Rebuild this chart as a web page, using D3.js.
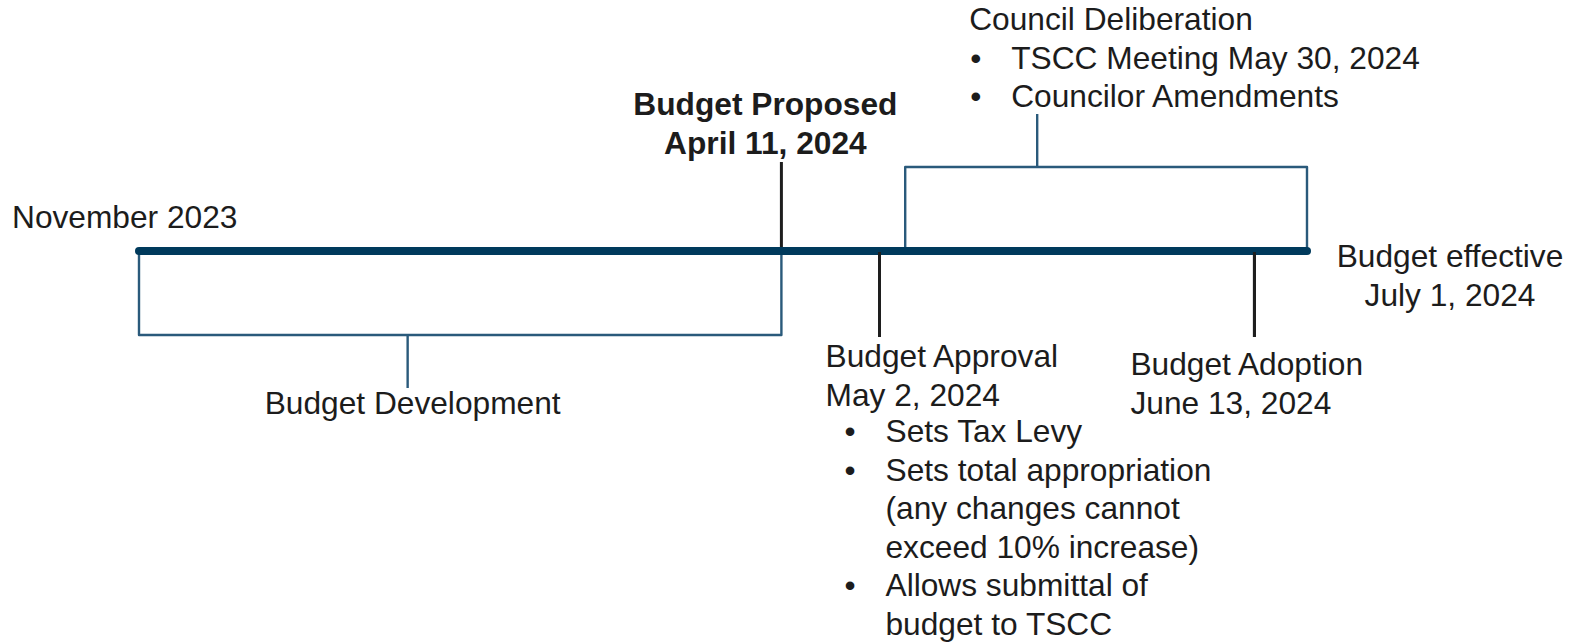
<!DOCTYPE html>
<html>
<head>
<meta charset="utf-8">
<script src="https://cdn.jsdelivr.net/npm/d3@7/dist/d3.min.js"></script>
<style>
  html, body { margin: 0; padding: 0; background: #ffffff; }
  svg { display: block; }
  text { font-family: Arial, "Liberation Sans", Helvetica, sans-serif; fill: #1c1c1c; }
</style>
</head>
<body>
<svg id="chart" width="1580" height="644"></svg>
<script>
// ---------- data ----------
// schematic timeline: 0 = November 2023, 100 = July 1, 2024
const timelineSpan = [0, 100];
const startLabel = "November 2023";
const endLabel = ["Budget effective", "July 1, 2024"];

const eventNames = ["Budget Proposed", "Budget Approval", "Budget Adoption"];
const eventDates = ["April 11, 2024", "May 2, 2024", "June 13, 2024"];
const eventPos   = [55.0, 63.4, 95.5];
const eventSide  = ["above", "below", "below"];

const phaseNames = ["Budget Development", "Council Deliberation"];
const phaseStart = [0, 65.6];
const phaseEnd   = [55.0, 100];
const phaseStem  = [23.0, 76.9];
const phaseSide  = ["below", "above"];

const councilItems  = [["TSCC Meeting May 30, 2024"], ["Councilor Amendments"]];
const approvalItems = [
  ["Sets Tax Levy"],
  ["Sets total appropriation", "(any changes cannot", "exceed 10% increase)"],
  ["Allows submittal of", "budget to TSCC"]
];

// ---------- layout ----------
const svg = d3.select("#chart");
const x = d3.scaleLinear().domain(timelineSpan).range([139, 1307]);
const lineY = 251;
const FS = 31.7;
const LH = 38.5;
const bracketDepth = 84;
const stemLen = 53;
const navy = "#003a5c";
const bracketColor = "#2a5a7b";
const tickColor = "#1e1e1e";

// phase brackets
const phases = phaseNames.map((n, i) => ({ name: n, s: phaseStart[i], e: phaseEnd[i], stem: phaseStem[i], side: phaseSide[i] }));
const gB = svg.append("g");
phases.forEach(p => {
  const dir = p.side === "below" ? 1 : -1;
  const yEdge = lineY + dir * bracketDepth;
  gB.append("path")
    .attr("d", d3.line()([[x(p.s), lineY], [x(p.s), yEdge], [x(p.e), yEdge], [x(p.e), lineY]]))
    .attr("fill", "none").attr("stroke", bracketColor).attr("stroke-width", 2.4)
    .attr("stroke-linejoin", "round");
  gB.append("line")
    .attr("x1", x(p.stem)).attr("x2", x(p.stem))
    .attr("y1", yEdge).attr("y2", yEdge + dir * stemLen)
    .attr("stroke", bracketColor).attr("stroke-width", 2.4);
});

// event ticks
const events = eventNames.map((n, i) => ({ name: n, date: eventDates[i], pos: eventPos[i], side: eventSide[i] }));
svg.append("g").selectAll("line").data(events).join("line")
  .attr("x1", d => x(d.pos)).attr("x2", d => x(d.pos))
  .attr("y1", d => d.side === "above" ? 162 : lineY)
  .attr("y2", d => d.side === "above" ? lineY : 337)
  .attr("stroke", tickColor).attr("stroke-width", 3);

// main timeline
svg.append("line")
  .attr("x1", x(timelineSpan[0])).attr("x2", x(timelineSpan[1]))
  .attr("y1", lineY).attr("y2", lineY)
  .attr("stroke", navy).attr("stroke-width", 8).attr("stroke-linecap", "round");

// redraw below-ticks on top so they start at line centre
svg.append("g").selectAll("line").data(events.filter(d => d.side === "below")).join("line")
  .attr("x1", d => x(d.pos)).attr("x2", d => x(d.pos))
  .attr("y1", lineY + 1).attr("y2", 337)
  .attr("stroke", tickColor).attr("stroke-width", 3);

// ---------- text ----------
function lines(g, arr, x0, y0, anchor, weight) {
  arr.forEach((t, i) => {
    g.append("text").attr("x", x0).attr("y", y0 + i * LH)
      .attr("text-anchor", anchor).attr("font-size", FS)
      .attr("font-weight", weight || "normal").text(t);
  });
}
function bullets(g, items, bx, tx, y0) {
  let row = 0;
  items.forEach(item => {
    g.append("text").attr("x", bx).attr("y", y0 + row * LH).attr("font-size", FS).text("\u2022");
    item.forEach(t => {
      g.append("text").attr("x", tx).attr("y", y0 + row * LH).attr("font-size", FS).text(t);
      row++;
    });
  });
}
const gT = svg.append("g");

// start / end labels
lines(gT, [startLabel], 12, 228, "start");
lines(gT, endLabel, x(timelineSpan[1]) + 143, 267, "middle");

// phase labels
lines(gT, [phases[0].name], x(phases[0].stem) + 5, 414, "middle");
lines(gT, [phases[1].name], x(phases[1].stem) - 68, 30, "start");
bullets(gT, councilItems, x(phases[1].stem) - 67, x(phases[1].stem) - 26, 68.5);

// event labels
lines(gT, [events[0].name, events[0].date], x(events[0].pos) - 16, 115, "middle", "bold");
lines(gT, [events[1].name, events[1].date], x(events[1].pos) - 54, 367, "start");
bullets(gT, approvalItems, x(events[1].pos) - 35, x(events[1].pos) + 6, 442);
lines(gT, [events[2].name, events[2].date], x(events[2].pos) - 124, 375, "start");
</script>
</body>
</html>
